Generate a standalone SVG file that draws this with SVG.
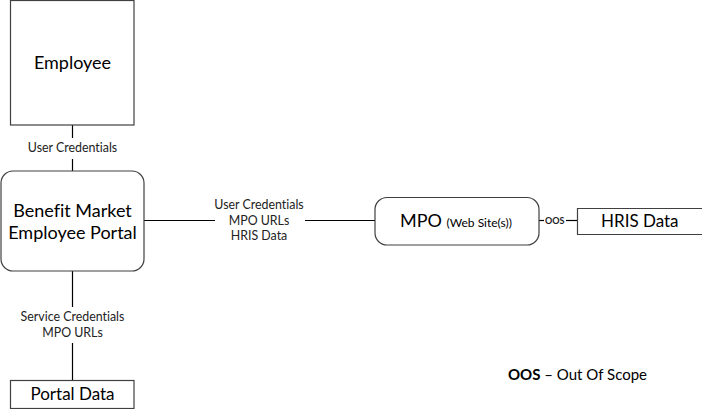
<svg xmlns="http://www.w3.org/2000/svg" width="702" height="409" viewBox="0 0 702 409">
<style>
  .box{fill:#fff;stroke:#404040;stroke-width:1.2}
  .ln{stroke:#000;stroke-width:1.2;fill:none}
  text{font-family:Lato,"Open Sans","Liberation Sans",sans-serif;fill:#000;font-variant-ligatures:none;font-feature-settings:"liga" 0}
  .big{font-size:18px}
  .lbl{font-size:12.4px;fill:#222}
  .mid{text-anchor:middle}
</style>
<rect width="702" height="409" fill="#fff"/>
<g id="connectors">
  <line class="ln" x1="72.5" y1="125" x2="72.5" y2="138"/>
  <line class="ln" x1="72.5" y1="159" x2="72.5" y2="171"/>
  <line class="ln" x1="144" y1="220.5" x2="215" y2="220.5"/>
  <line class="ln" x1="305" y1="220.5" x2="375" y2="220.5"/>
  <line class="ln" x1="539" y1="220.5" x2="544" y2="220.5"/>
  <line class="ln" x1="566" y1="220.5" x2="577" y2="220.5"/>
  <line class="ln" x1="72.5" y1="271" x2="72.5" y2="307"/>
  <line class="ln" x1="72.5" y1="343" x2="72.5" y2="380"/>
  <text class="lbl mid" x="72.5" y="152">User Credentials</text>
  <text class="lbl mid" x="259" y="209">User Credentials</text>
  <text class="lbl mid" x="259" y="224.5">MPO URLs</text>
  <text class="lbl mid" x="259" y="240">HRIS Data</text>
  <text class="lbl" x="545" y="224" style="font-size:9px;font-weight:bold">OOS</text>
  <text class="lbl mid" x="72.5" y="321">Service Credentials</text>
  <text class="lbl mid" x="72.5" y="337">MPO URLs</text>
</g>
<g id="employee">
  <rect class="box" x="10.5" y="0.5" width="123.5" height="124.5"/>
  <text class="big mid" x="72.5" y="69">Employee</text>
</g>
<g id="portal">
  <rect class="box" x="1" y="171" width="143" height="100" rx="12" ry="12"/>
  <text class="big mid" x="72.5" y="217">Benefit Market</text>
  <text class="big mid" x="72.5" y="239">Employee Portal</text>
</g>
<g id="mpo">
  <rect class="box" x="375" y="197.5" width="164" height="47.5" rx="12" ry="12"/>
  <text x="400" y="227"><tspan style="font-size:18px">MPO </tspan><tspan style="font-size:12px">(Web Site(s))</tspan></text>
</g>
<g id="hris">
  <path class="box" d="M705,208.5 H577.5 V234.5 H705"/>
  <text class="big" x="601" y="227" style="font-size:17px">HRIS Data</text>
</g>
<g id="portaldata">
  <rect class="box" x="10.5" y="380.5" width="123.5" height="28"/>
  <text class="big mid" x="72.5" y="400" style="font-size:17px">Portal Data</text>
</g>
<g id="legend">
  <text x="508" y="380" style="font-size:15px"><tspan style="font-weight:bold">OOS</tspan> – Out Of Scope</text>
</g>
</svg>
